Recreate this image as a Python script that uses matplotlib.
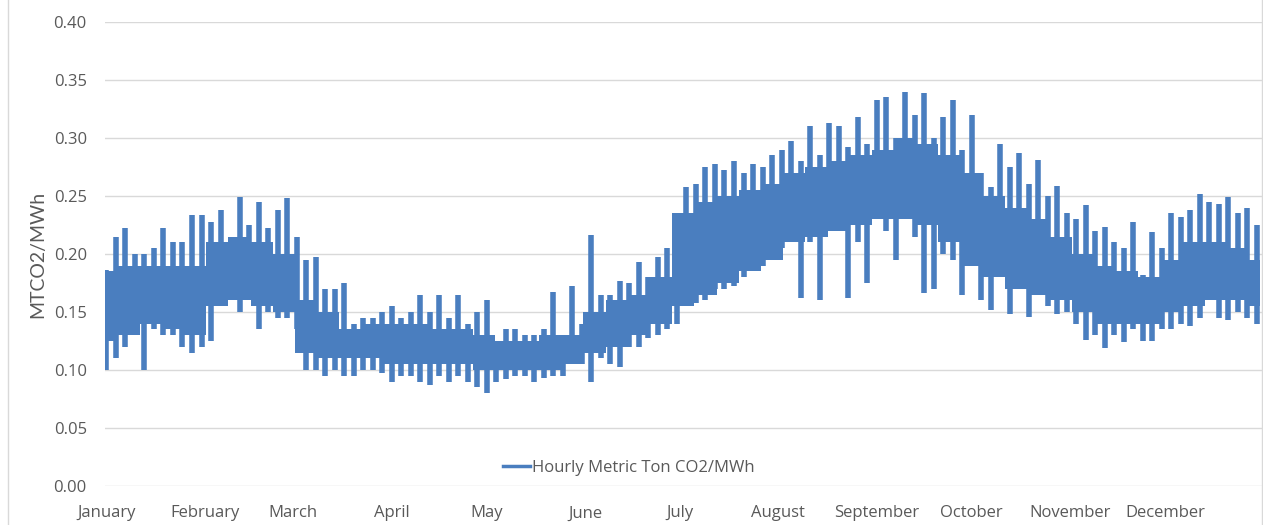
import matplotlib
matplotlib.use('Agg')
import matplotlib.pyplot as plt
from matplotlib.lines import Line2D
from matplotlib.patches import Rectangle

# hourly CO2 intensity:
# 3-day low/high extremes (the spikes) ...
days = list(range(0, 366, 3))

lows = [0.100, 0.110, 0.120, 0.130, 0.100, 0.135, 0.130, 0.130, 0.120, 0.115,
        0.120, 0.125, 0.160, 0.160, 0.150, 0.160, 0.135, 0.150, 0.145, 0.145,
        0.135, 0.100, 0.100, 0.095, 0.100, 0.095, 0.095, 0.100, 0.100, 0.097,
        0.090, 0.095, 0.095, 0.090, 0.087, 0.095, 0.090, 0.095, 0.090, 0.085,
        0.080, 0.090, 0.092, 0.095, 0.095, 0.090, 0.093, 0.095, 0.095, 0.105,
        0.105, 0.090, 0.110, 0.105, 0.103, 0.120, 0.120, 0.128, 0.130, 0.135,
        0.140, 0.155, 0.158, 0.160, 0.170, 0.170, 0.172, 0.180, 0.190, 0.190,
        0.195, 0.205, 0.210, 0.162, 0.210, 0.160, 0.220, 0.220, 0.162, 0.210,
        0.175, 0.230, 0.220, 0.195, 0.230, 0.215, 0.166, 0.170, 0.200, 0.195,
        0.165, 0.190, 0.160, 0.152, 0.180, 0.148, 0.170, 0.146, 0.165, 0.155,
        0.148, 0.150, 0.140, 0.126, 0.130, 0.119, 0.130, 0.124, 0.135, 0.125,
        0.125, 0.135, 0.135, 0.140, 0.138, 0.145, 0.160, 0.145, 0.143, 0.150,
        0.145, 0.140]

highs = [0.186, 0.215, 0.222, 0.200, 0.200, 0.205, 0.222, 0.210, 0.210, 0.234,
         0.234, 0.228, 0.238, 0.210, 0.249, 0.225, 0.245, 0.222, 0.238, 0.248,
         0.215, 0.195, 0.197, 0.170, 0.170, 0.175, 0.140, 0.145, 0.145, 0.150,
         0.155, 0.145, 0.150, 0.165, 0.150, 0.165, 0.145, 0.165, 0.140, 0.150,
         0.160, 0.125, 0.135, 0.135, 0.130, 0.130, 0.135, 0.167, 0.130, 0.172,
         0.140, 0.216, 0.165, 0.165, 0.177, 0.175, 0.193, 0.180, 0.197, 0.205,
         0.210, 0.258, 0.260, 0.275, 0.278, 0.272, 0.280, 0.270, 0.278, 0.275,
         0.285, 0.290, 0.297, 0.280, 0.310, 0.285, 0.313, 0.310, 0.292, 0.318,
         0.295, 0.333, 0.335, 0.300, 0.340, 0.320, 0.339, 0.300, 0.318, 0.333,
         0.290, 0.320, 0.270, 0.258, 0.295, 0.275, 0.287, 0.260, 0.281, 0.250,
         0.259, 0.235, 0.230, 0.242, 0.220, 0.223, 0.210, 0.205, 0.228, 0.182,
         0.219, 0.205, 0.235, 0.232, 0.238, 0.252, 0.245, 0.243, 0.249, 0.235,
         0.240, 0.225]

# ... and the weekly solid core of the band
weeks = list(range(0, 365, 7))

core_low = [0.125, 0.130, 0.140, 0.135, 0.130, 0.155, 0.160, 0.155, 0.150, 0.115,
            0.110, 0.110, 0.110, 0.105, 0.105, 0.105, 0.105, 0.100, 0.100, 0.100,
            0.100, 0.105, 0.115, 0.120, 0.130, 0.140, 0.155, 0.165, 0.175, 0.185,
            0.195, 0.210, 0.215, 0.220, 0.225, 0.230, 0.230, 0.225, 0.210, 0.190,
            0.180, 0.170, 0.165, 0.160, 0.150, 0.140, 0.140, 0.140, 0.150, 0.155,
            0.160, 0.160, 0.155]

core_high = [0.185, 0.190, 0.190, 0.190, 0.190, 0.210, 0.215, 0.210, 0.200, 0.160,
             0.150, 0.135, 0.140, 0.140, 0.140, 0.135, 0.135, 0.130, 0.125, 0.125,
             0.130, 0.130, 0.150, 0.160, 0.165, 0.180, 0.235, 0.245, 0.250, 0.255,
             0.260, 0.270, 0.275, 0.280, 0.285, 0.290, 0.300, 0.295, 0.285, 0.270,
             0.250, 0.240, 0.230, 0.215, 0.200, 0.190, 0.185, 0.180, 0.195, 0.210,
             0.210, 0.205, 0.195]

month_days = [0, 31, 59, 90, 120, 151, 181, 212, 243, 273, 304, 334]
month_names = ['January', 'February', 'March', 'April', 'May', 'June', 'July',
               'August', 'September', 'October', 'November', 'December']

blue = '#4a7ebf'
grey = '#595959'

plt.rcParams['font.family'] = ['Open Sans', 'DejaVu Sans']

fig = plt.figure(figsize=(12.63, 5.25), dpi=100)
ax = fig.add_axes([0.083, 0.0743, 0.916, 0.8838])

ax.fill_between(weeks, core_low, core_high, step='mid', color=blue, lw=0)
ax.vlines(days, lows, highs, color=blue, lw=4)

ax.set_xlim(-0.5, 364.5)
ax.set_ylim(0, 0.40)
ax.set_yticks([i * 0.05 for i in range(9)])
ax.set_yticklabels(['%.2f' % (i * 0.05) for i in range(9)])
ax.set_xticks(month_days)
ax.set_xticklabels(month_names)

ax.grid(axis='y', color='#d9d9d9', lw=1)
ax.set_axisbelow(True)
for s in ax.spines.values():
    s.set_visible(False)
ax.tick_params(axis='both', length=0, labelsize=12, labelcolor=grey)
ax.tick_params(axis='y', pad=13)
ax.tick_params(axis='x', pad=14)

ax.set_ylabel('MTCO2/MWh', fontsize=14, color=grey, labelpad=5, family=['Lato', 'DejaVu Sans'])

handle = Line2D([], [], color=blue, lw=2.5)
ax.legend([handle], ['Hourly Metric Ton CO2/MWh'], loc='center',
          bbox_to_anchor=(0.453, 0.039), frameon=False, fontsize=12,
          labelcolor=grey, handlelength=1.6, handletextpad=0.15)

# chart frame
fig.add_artist(Rectangle((8 / 1263, -0.01), 1254 / 1263, 1.02, transform=fig.transFigure,
                         fill=False, edgecolor='#d9d9d9', lw=1))

fig.savefig('out.png', dpi=100)
